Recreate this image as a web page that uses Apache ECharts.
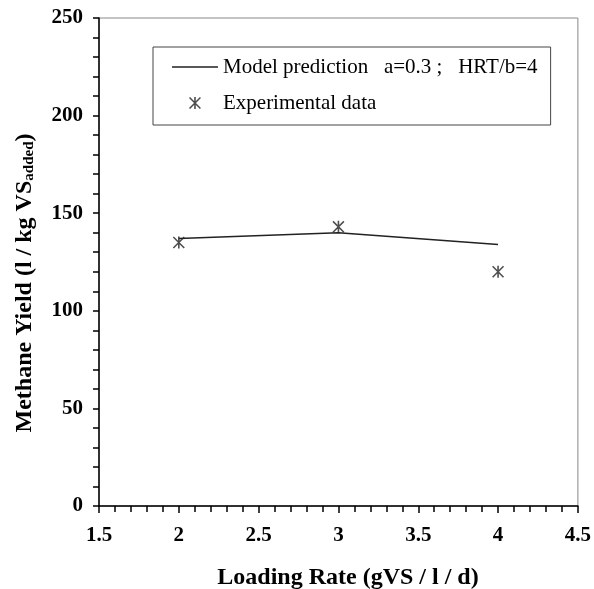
<!DOCTYPE html>
<html>
<head>
<meta charset="utf-8">
<script src="https://cdn.jsdelivr.net/npm/echarts@6/dist/echarts.min.js"></script>
<style>html,body{margin:0;padding:0;background:#fff;}#chart{width:594px;height:589px;}</style>
</head>
<body>
<div id="chart"></div>
<script>
// Data
const loadingRates = [2, 3, 4];
const modelValues = [137, 140, 134];
const experimentalValues = [135, 143, 120];
const modelName = 'Model prediction   a=0.3 ;   HRT/b=4';
const expName = 'Experimental data';
const xTitle = 'Loading Rate (gVS / l / d)';

const FONT = '"Liberation Serif", "Times New Roman", serif';
const asterisk = 'path://M5.2,0 L6.8,0 L6.8,12 L5.2,12 Z M0,1.1 L1.1,0 L12,10.9 L10.9,12 Z M10.9,0 L12,1.1 L1.1,12 L0,10.9 Z';
const lineIcon = 'path://M0,0 L46,0 L46,0.01 Z M0,5.3 L46,5.3 L46,6.7 L0,6.7 Z M0,12 L46,12 L46,12.01 Z';

const chart = echarts.init(document.getElementById('chart'), null, {renderer: 'canvas'});
chart.setOption({
  animation: false,
  backgroundColor: '#fff',
  grid: {left: 99, right: 14, top: 18, bottom: 83, show: true, borderColor: '#888', borderWidth: 1, backgroundColor: 'transparent'},
  xAxis: {
    type: 'value', min: 1.5, max: 4.5, interval: 0.5,
    axisLine: {show: true, onZero: false, lineStyle: {color: '#000', width: 1.5}},
    axisTick: {show: true, inside: false, length: 7, lineStyle: {color: '#000', width: 1.5}},
    minorTick: {show: true, splitNumber: 5, length: 6, lineStyle: {color: '#000', width: 1.5}},
    splitLine: {show: false},
    axisLabel: {color: '#000', fontFamily: FONT, fontWeight: 'bold', fontSize: 21, margin: 19}
  },
  yAxis: {
    type: 'value', min: 0, max: 250, interval: 50,
    axisLine: {show: true, onZero: false, lineStyle: {color: '#000', width: 1.5}},
    axisTick: {show: true, inside: false, length: 6, lineStyle: {color: '#000', width: 1.5}},
    minorTick: {show: true, splitNumber: 5, length: 6, lineStyle: {color: '#000', width: 1.5}},
    splitLine: {show: false},
    axisLabel: {color: '#000', fontFamily: FONT, fontWeight: 'bold', fontSize: 21, margin: 16}
  },
  legend: {
    left: 153, top: 47, orient: 'vertical',
    padding: [8, 13, 10, 19], itemGap: 12,
    itemWidth: 46, itemHeight: 12,
    borderColor: '#444', borderWidth: 1, backgroundColor: '#fff',
    textStyle: {fontFamily: FONT, fontSize: 21, color: '#000', lineHeight: 24},
    data: [{name: modelName, icon: lineIcon}, {name: expName, icon: asterisk}]
  },
  series: [
    {name: modelName, type: 'line', data: loadingRates.map((x, i) => [x, modelValues[i]]),
     symbol: 'none', lineStyle: {color: '#222', width: 1.5}, itemStyle: {color: '#222'}},
    {name: expName, type: 'scatter', data: loadingRates.map((x, i) => [x, experimentalValues[i]]),
     symbol: asterisk, symbolSize: 12, itemStyle: {color: '#222'}}
  ],
  graphic: [
    {type: 'text', x: 25, y: 283, rotation: Math.PI / 2,
     style: {text: '{a|Methane Yield (l / kg VS}{s|added}{a|)}', align: 'center', verticalAlign: 'middle',
       rich: {a: {fontFamily: FONT, fontWeight: 'bold', fontSize: 24, fill: '#000'},
              s: {fontFamily: FONT, fontWeight: 'bold', fontSize: 15, fill: '#000', padding: [8, 0, 0, 0]}}}},
    {type: 'text', x: 348, y: 578,
     style: {text: xTitle, align: 'center', verticalAlign: 'middle', fontFamily: FONT, fontWeight: 'bold', fontSize: 24, fill: '#000'}}
  ]
});
</script>
</body>
</html>
